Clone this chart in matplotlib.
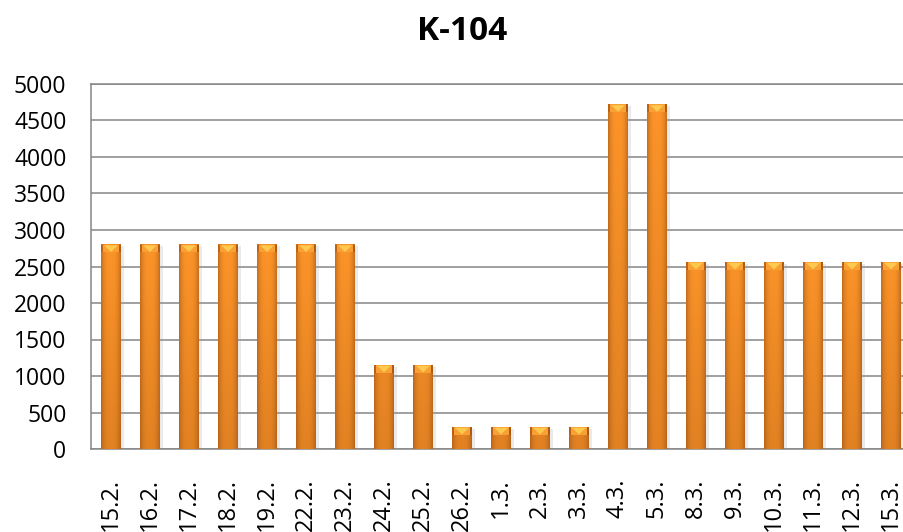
import matplotlib.pyplot as plt
import numpy as np
from matplotlib.patches import Polygon, Rectangle

days = ['15.2.', '16.2.', '17.2.', '18.2.', '19.2.', '22.2.', '23.2.', '24.2.',
        '25.2.', '26.2.', '1.3.', '2.3.', '3.3.', '4.3.', '5.3.', '8.3.', '9.3.',
        '10.3.', '11.3.', '12.3.', '15.3.']
values = [2800, 2800, 2800, 2800, 2800, 2800, 2800, 1150, 1150, 300, 300, 300, 300,
          4720, 4720, 2560, 2560, 2560, 2560, 2560, 2560]
yticks = [0, 500, 1000, 1500, 2000, 2500, 3000, 3500, 4000, 4500, 5000]

plt.rcParams['font.family'] = ['Open Sans', 'DejaVu Sans']

fig = plt.figure(figsize=(9.04, 5.32), dpi=100)
ax = fig.add_axes([91.5 / 904, 1 - 449 / 532, 819 / 904, 365 / 532])

x = np.arange(len(days))
bw = 0.49
bars = ax.bar(x, values, width=bw, color='#ef8525', zorder=3)

# horizontal shading: dark sides, bright core
u = np.linspace(-1, 1, 40)
hprof = 0.55 + 0.45 * np.clip(1 - np.abs(u) ** 3, 0, 1)
dark = np.array([0.50, 0.25, 0.05])
light = np.array([0.99, 0.58, 0.16])

for rect in bars:
    x0, w, h = rect.get_x(), rect.get_width(), rect.get_height()
    # soft drop shadow
    ax.add_patch(Rectangle((x0 + 0.05, 0), w + 0.03, h - 20, color='#a0a0a0',
                           alpha=0.22, lw=0, zorder=2.5))
    # vertical shading: brighter near the top, darker toward the base
    frac = np.linspace(1, 0, 80)[:, None]
    top_level = min(1.0, 0.78 + 0.22 * h / 2800)
    vprof = 0.78 + (top_level - 0.78) * frac
    t = hprof[None, :] * vprof
    img = dark + (light - dark) * t[..., None]
    ax.imshow(img, extent=[x0, x0 + w, 0, h], aspect='auto', zorder=3,
              interpolation='bilinear')
    # bevelled cap with yellow highlight
    cap = 105
    ax.add_patch(Rectangle((x0 + 0.06 * w, h - cap), 0.88 * w, cap,
                           color='#f9a035', lw=0, zorder=4))
    ax.add_patch(Polygon([[x0 + 0.14 * w, h - 10], [x0 + 0.86 * w, h - 10],
                          [x0 + 0.5 * w, h - cap + 5]], closed=True,
                         color='#fdc94e', lw=0, zorder=5))
    ax.add_patch(Rectangle((x0, h - cap), 0.1 * w, cap, color='#b85e18',
                           lw=0, zorder=5, alpha=0.8))
    ax.add_patch(Rectangle((x0 + 0.9 * w, h - cap), 0.1 * w, cap,
                           color='#a85514', lw=0, zorder=5, alpha=0.8))

ax.set_xlim(-0.5, len(days) - 0.5)
ax.set_ylim(0, 5000)
ax.set_yticks(yticks)
ax.set_xticks(x)
ax.set_xticklabels(days, rotation=90, ha='center', va='top')
ax.tick_params(axis='y', length=0, pad=18, labelsize=16.5)
ax.tick_params(axis='x', length=0, pad=21, labelsize=17)
ax.yaxis.grid(True, color='#868686', lw=1.1, zorder=0)
ax.set_axisbelow(True)
for s in ax.spines.values():
    s.set_color('#868686')
    s.set_linewidth(1.1)

fig.text(462 / 904, 1 - 31 / 532, 'K-104', ha='center', va='center',
         fontsize=24, fontweight='bold')

fig.savefig('out.png', dpi=100)
